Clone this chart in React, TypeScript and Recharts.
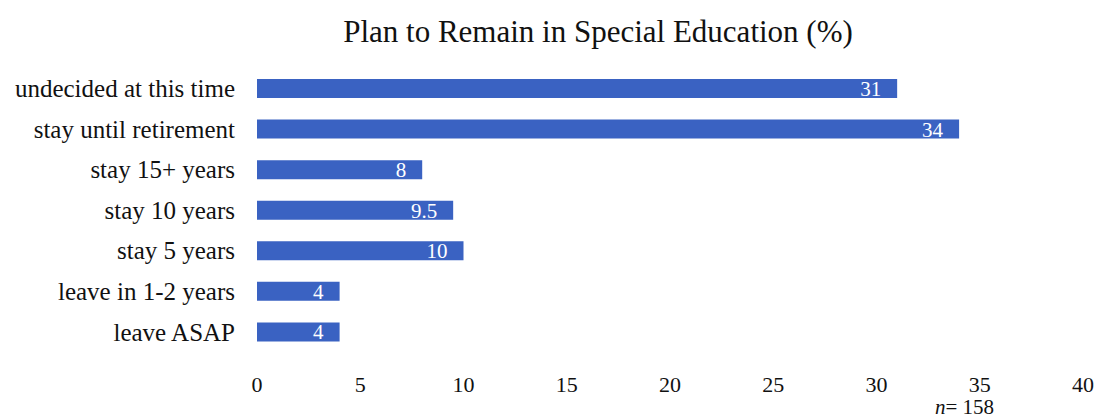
import { Bar, BarChart, XAxis, YAxis, LabelList } from 'recharts';

const categories = [
  'undecided at this time',
  'stay until retirement',
  'stay 15+ years',
  'stay 10 years',
  'stay 5 years',
  'leave in 1-2 years',
  'leave ASAP',
];
const percents = [31, 34, 8, 9.5, 10, 4, 4];
const xTicks = [0, 5, 10, 15, 20, 25, 30, 35, 40];

const data = categories.map((name, i) => ({ name, value: percents[i] }));

const serif = '"Liberation Serif", "Times New Roman", serif';

export default function App() {
  return (
    <div style={{ position: 'fixed', left: 0, top: 0, width: 1098, height: 420, background: '#fff', fontFamily: serif }}>
      <div
        style={{
          position: 'absolute',
          left: 598,
          top: 14,
          transform: 'translateX(-50%)',
          whiteSpace: 'nowrap',
          fontSize: 31,
          color: '#111',
        }}
      >
        Plan to Remain in Special Education (%)
      </div>
      <BarChart
        width={1098}
        height={420}
        data={data}
        layout="vertical"
        margin={{ top: 68, right: 15, bottom: 28, left: 0 }}
        barCategoryGap={0}
      >
        <XAxis
          type="number"
          domain={[0, 40]}
          ticks={xTicks}
          axisLine={false}
          tickLine={false}
          tickMargin={18}
          height={40}
          tick={{ fill: '#111', fontSize: 22, fontFamily: serif }}
        />
        <YAxis
          type="category"
          dataKey="name"
          width={257}
          axisLine={false}
          tickLine={false}
          tickMargin={16}
          tick={{ fill: '#111', fontSize: 25, fontFamily: serif }}
        />
        <Bar dataKey="value" fill="#3a62c2" barSize={19} isAnimationActive={false}>
          <LabelList
            dataKey="value"
            position="insideRight"
            offset={16}
            fill="#ffffff"
            style={{ fontSize: 21, fontFamily: serif }}
          />
        </Bar>
      </BarChart>
      <div style={{ position: 'absolute', left: 935, top: 396, fontSize: 21, lineHeight: '22px', color: '#111', whiteSpace: 'nowrap' }}>
        <i>n</i>= 158
      </div>
    </div>
  );
}
